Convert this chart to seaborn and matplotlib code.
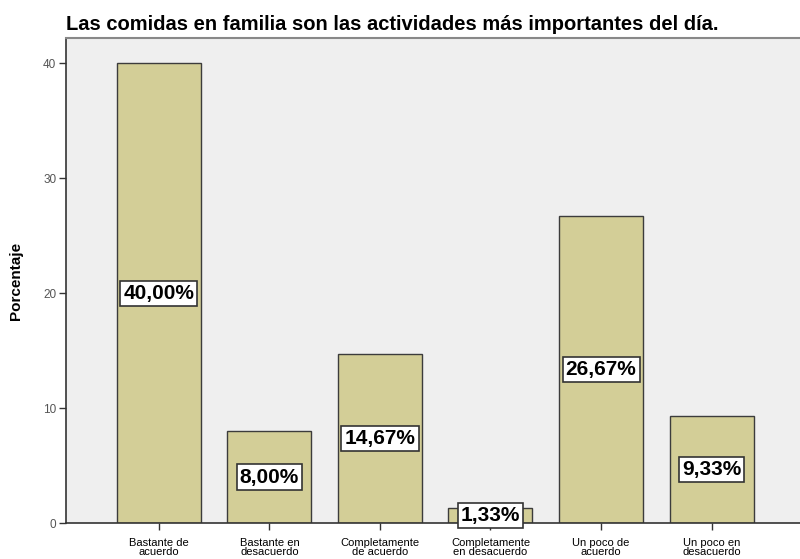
import matplotlib
matplotlib.use("Agg")
import matplotlib.pyplot as plt
import seaborn as sns
import pandas as pd

categories = ["Bastante de\nacuerdo", "Bastante en\ndesacuerdo", "Completamente\nde acuerdo",
              "Completamente\nen desacuerdo", "Un poco de\nacuerdo", "Un poco en\ndesacuerdo"]
values = [40.00, 8.00, 14.67, 1.33, 26.67, 9.33]
labels = ["40,00%", "8,00%", "14,67%", "1,33%", "26,67%", "9,33%"]
yticks = [0, 10, 20, 30, 40]

sns.set_theme(style="white")
plt.rcParams['font.family'] = ['Liberation Sans', 'DejaVu Sans']

df = pd.DataFrame({"cat": categories, "val": values})

fig = plt.figure(figsize=(8, 5.59), dpi=100)
ax = fig.add_axes([0.0825, 0.0644, 0.9175, 0.8676])
ax.set_facecolor("#efefef")

sns.barplot(data=df, x="cat", y="val", ax=ax, color="#d3ce97", width=0.76,
            edgecolor="#3c3c3c", linewidth=1.0, saturation=1)

for i, (v, lab) in enumerate(zip(values, labels)):
    ax.text(i, v / 2, lab, ha="center", va="center", fontsize=15, fontweight="bold",
            color="black",
            bbox=dict(boxstyle="square,pad=0.15", facecolor="white", edgecolor="#333333", linewidth=1.2))

ax.set_xlim(-0.84, 5.8)
ax.set_ylim(0, 42.2)
ax.set_yticks(yticks)
ax.set_yticklabels([str(t) for t in yticks], fontsize=8.5, color="#555555")
ax.set_xticks(range(len(categories)))
ax.set_xticklabels(categories, fontsize=8, color="black", linespacing=0.85)
ax.tick_params(axis="both", direction="out", length=5, width=1, color="#333333", pad=2,
               bottom=True, left=True)
ax.tick_params(axis="x", pad=6)

for s in ["left", "bottom"]:
    ax.spines[s].set_color("#333333")
    ax.spines[s].set_linewidth(1.2)
ax.spines["top"].set_color("#888888")
ax.spines["top"].set_linewidth(1.5)
ax.spines["right"].set_visible(False)

ax.set_xlabel("")
ax.set_ylabel("Porcentaje", fontsize=11, fontweight="bold", color="black")
ax.yaxis.set_label_coords(-0.058, 0.5)

fig.text(0.0825, 0.957, "Las comidas en familia son las actividades más importantes del día.",
         fontsize=14.5, fontweight="bold", ha="left", va="center", color="black")

fig.savefig("out.png", dpi=100)
